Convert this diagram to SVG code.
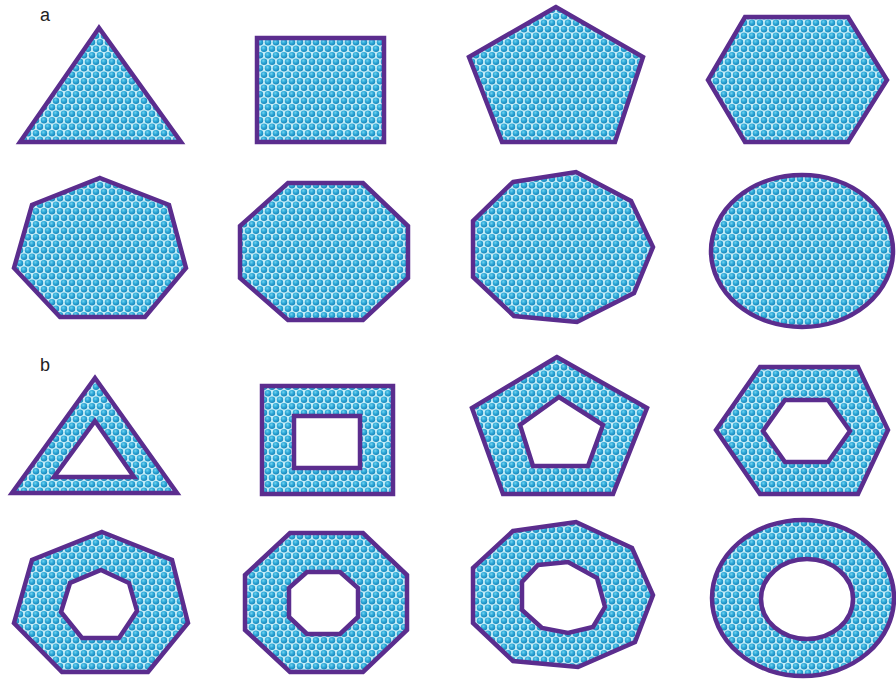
<svg xmlns="http://www.w3.org/2000/svg" width="896" height="679" viewBox="0 0 896 679">
<defs>
<radialGradient id="dot" cx="0.4" cy="0.35" r="0.65">
<stop offset="0" stop-color="#74d2ee"/>
<stop offset="0.5" stop-color="#2eaad9"/>
<stop offset="1" stop-color="#1a86bb"/>
</radialGradient>
<pattern id="bubbles" patternUnits="userSpaceOnUse" width="8" height="13">
<rect width="8" height="13" fill="#c6eef8"/>
<circle cx="4" cy="3.25" r="3.2" fill="url(#dot)"/>
<circle cx="0" cy="9.75" r="3.2" fill="url(#dot)"/>
<circle cx="8" cy="9.75" r="3.2" fill="url(#dot)"/>
</pattern>
</defs>
<style>
.sh{fill:url(#bubbles);fill-rule:evenodd;stroke:#5b2d8e;stroke-width:4.5;stroke-linejoin:miter}
.lbl{font-family:"Liberation Sans",Arial,sans-serif;font-size:18px;fill:#222}
</style>
<rect width="896" height="679" fill="#ffffff"/>
<text class="lbl" x="40" y="21">a</text>
<text class="lbl" x="40" y="371">b</text>

<g id="a-triangle"><polygon class="sh" points="99,28 20,142 181,142"/></g>
<g id="a-square"><rect class="sh" x="257" y="38" width="127" height="104"/></g>
<g id="a-pentagon"><polygon class="sh" points="556,7 469,57 502,142 615,142 643,57"/></g>
<g id="a-hexagon"><polygon class="sh" points="745,17 848,17 887,80 848,142 745,142 708,80"/></g>

<g id="a-heptagon"><polygon class="sh" points="100,178 169,205 186,268 145,317 60,317 14,268 32,205"/></g>
<g id="a-octagon"><polygon class="sh" points="288,183 363,183 408,226 408,278 363,320 288,320 240,278 240,226"/></g>
<g id="a-nonagon"><polygon class="sh" points="513,182 576,172 631,201 653,247 634,293 577,322 514,316 473,277 473,221"/></g>
<g id="a-ellipse"><ellipse class="sh" cx="802" cy="251" rx="91" ry="76"/></g>

<g id="b-triangle"><path class="sh" d="M95,378 L12,493 L177,493 Z M95,421 L54,477 L134,477 Z"/></g>
<g id="b-square"><path class="sh" d="M262,386 H393 V494 H262 Z M294,416 H360 V468 H294 Z"/></g>
<g id="b-pentagon"><path class="sh" d="M557,357 L472,408 L503,494 L613,494 L647,408 Z M559,397 L520,425 L533,466 L588,466 L603,425 Z"/></g>
<g id="b-hexagon"><path class="sh" d="M760,367 L858,367 L888,430 L858,494 L760,494 L716,430 Z M785,400 L828,400 L850,431 L828,462 L785,462 L763,431 Z"/></g>

<g id="b-heptagon"><path class="sh" d="M102,532 L172,560 L188,623 L148,672 L62,672 L14,623 L32,560 Z M101,570 L129,583 L137,611 L119,638 L82,638 L61,612 L70,583 Z"/></g>
<g id="b-octagon"><path class="sh" d="M290,533 L363,533 L407,575 L407,630 L363,672 L290,672 L245,630 L245,575 Z M307,572 L340,572 L358,588 L358,617 L340,634 L307,634 L289,617 L289,588 Z"/></g>
<g id="b-nonagon"><path class="sh" d="M513,531 L576,522 L632,548 L653,595 L635,642 L578,667 L513,661 L473,623 L473,568 Z M538,565 L568,562 L597,578 L605,607 L593,627 L568,633 L542,628 L522,610 L522,582 Z"/></g>
<g id="b-ellipse"><path class="sh" d="M712,598 A91,78 0 1,0 894,598 A91,78 0 1,0 712,598 Z M761,599 A46,40 0 1,0 853,599 A46,40 0 1,0 761,599 Z"/></g>
</svg>
